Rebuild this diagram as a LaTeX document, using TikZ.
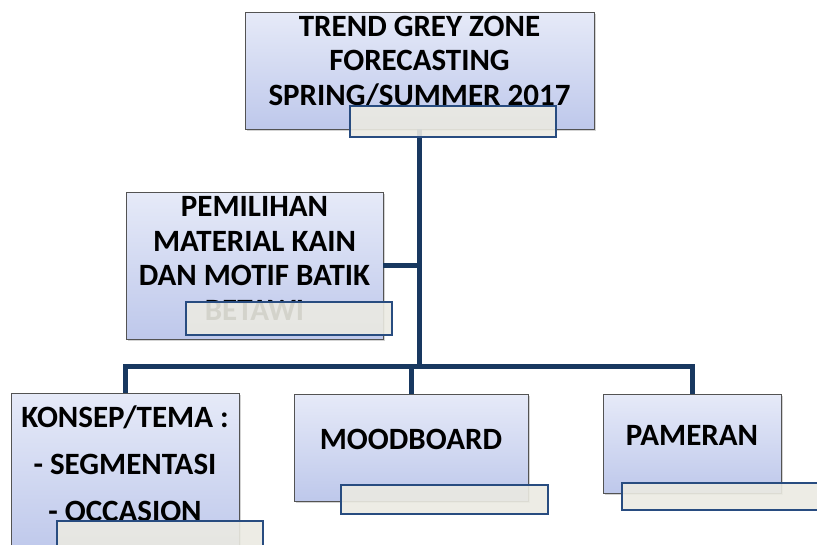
\documentclass[tikz,border=0pt]{standalone}
\usepackage{fontspec}
\setmainfont{Carlito}
\usetikzlibrary{shadows}

\definecolor{boxtop}{RGB}{230,234,248}
\definecolor{boxbot}{RGB}{190,200,235}
\definecolor{lblfill}{RGB}{235,234,226}
\definecolor{lbledge}{RGB}{40,76,128}
\definecolor{connnavy}{RGB}{24,56,96}

\tikzset{
  topicbox/.style={draw=gray!65!black, line width=0.8pt, top color=boxtop, bottom color=boxbot,
    drop shadow={opacity=0.35, shadow xshift=2pt, shadow yshift=-2pt},
    align=center, inner sep=0pt, font=\bfseries\fontsize{31}{34.5}\selectfont},
  lblbox/.style={draw=lbledge, line width=1.3pt, fill=lblfill, fill opacity=0.9, inner sep=0pt},
  conn/.style={draw=connnavy, line width=5pt}
}

\begin{document}
\begin{tikzpicture}[x=1pt, y=-1pt]
            \path[use as bounding box, clip] (0,0) rectangle (817,544);

            \node[topicbox, minimum width=349pt, minimum height=117pt, text depth=20pt] (trend) at (419.5,70.5) {TREND GREY ZONE\\FORECASTING\\SPRING/SUMMER 2017};
            \node[topicbox, minimum width=257pt, minimum height=147pt, text depth=14pt] (pemilihan) at (254.5,265.5) {PEMILIHAN\\MATERIAL KAIN\\DAN MOTIF BATIK\\BETAWI};
            \node[topicbox, minimum width=228pt, minimum height=160pt, text depth=18pt, font=\bfseries\fontsize{31}{47}\selectfont] (konsep) at (125,473) {KONSEP/TEMA :\\- SEGMENTASI\\- OCCASION};
            \node[topicbox, minimum width=234pt, minimum height=107pt, text depth=17pt] (mood) at (411,447.5) {MOODBOARD};
            \node[topicbox, minimum width=178pt, minimum height=99pt, text depth=17pt] (pameran) at (692,443.5) {PAMERAN};

            \coordinate (hub) at (419.5,366);
            \draw[conn] (trend.south) -- (hub);
            \draw[conn] (pemilihan.east) -- (pemilihan.east -| hub);
            \draw[conn] (konsep.north) |- (hub) -| (pameran.north);
            \draw[conn] (mood.north) -- (mood.north |- hub);

            \node[lblbox, minimum width=206pt, minimum height=31pt] (trendlbl) at (453,121.5) {};
            \node[lblbox, minimum width=206pt, minimum height=33pt] (pemilihanlbl) at (289,318.5) {};
            \node[lblbox, minimum width=206pt, minimum height=31pt] (konseplbl) at (160,536.5) {};
            \node[lblbox, minimum width=207pt, minimum height=29pt] (moodlbl) at (444.5,499.5) {};
            \node[lblbox, minimum width=206pt, minimum height=27pt] (pameranlbl) at (725,496.5) {};
        \end{tikzpicture}
\end{document}
